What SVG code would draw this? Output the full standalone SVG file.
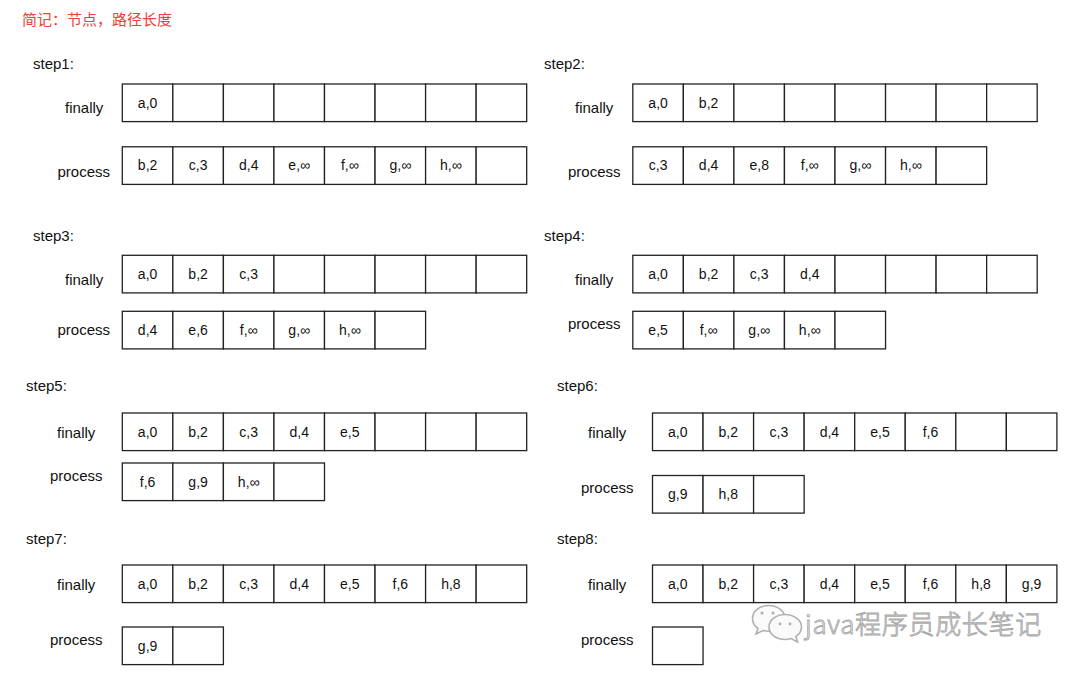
<svg xmlns="http://www.w3.org/2000/svg" width="1080" height="674" viewBox="0 0 1080 674">
<style>
.bg{fill:#fff}
.c{fill:#fff;stroke:#222;stroke-width:1.3}
.t{font-family:"Liberation Sans",Arial,sans-serif;font-size:14px;fill:#111;text-anchor:middle}
.l{font-family:"Liberation Sans",Arial,sans-serif;font-size:15px;fill:#111}
.title{font-family:"Liberation Sans","Noto Sans CJK SC",sans-serif;font-size:15px;fill:#ee4035}
.wm{font-family:"Noto Sans CJK SC","Noto Sans",sans-serif;font-size:26px;font-weight:300;letter-spacing:0.7px;fill:#f6f6f6;stroke:#a8a8a8;stroke-width:0.9}
.wi{fill:#fafafa;stroke:#b0b0b0;stroke-width:1.6}
.we{fill:#b0b0b0}
</style>
<rect class="bg" x="0" y="0" width="1080" height="674"/>
<text class="title" x="22" y="25">简记：节点，路径长度</text>

<g id="step1">
<text class="l" x="33" y="69">step1:</text>
<text class="l" x="65" y="113">finally</text>
<text class="l" x="57.5" y="177">process</text>
<g transform="translate(122.3,84)">
<rect class="c" x="0" y="0" width="50.55" height="37.6"/><rect class="c" x="50.55" y="0" width="50.55" height="37.6"/><rect class="c" x="101.1" y="0" width="50.55" height="37.6"/><rect class="c" x="151.65" y="0" width="50.55" height="37.6"/><rect class="c" x="202.2" y="0" width="50.55" height="37.6"/><rect class="c" x="252.75" y="0" width="50.55" height="37.6"/><rect class="c" x="303.3" y="0" width="50.55" height="37.6"/><rect class="c" x="353.85" y="0" width="50.55" height="37.6"/>
<text class="t" x="25.3" y="23.5">a,0</text>
</g>
<g transform="translate(122.3,146.8)">
<rect class="c" x="0" y="0" width="50.55" height="37.6"/><rect class="c" x="50.55" y="0" width="50.55" height="37.6"/><rect class="c" x="101.1" y="0" width="50.55" height="37.6"/><rect class="c" x="151.65" y="0" width="50.55" height="37.6"/><rect class="c" x="202.2" y="0" width="50.55" height="37.6"/><rect class="c" x="252.75" y="0" width="50.55" height="37.6"/><rect class="c" x="303.3" y="0" width="50.55" height="37.6"/><rect class="c" x="353.85" y="0" width="50.55" height="37.6"/>
<text class="t" x="25.3" y="23.5">b,2</text><text class="t" x="75.8" y="23.5">c,3</text><text class="t" x="126.4" y="23.5">d,4</text><text class="t" x="176.9" y="23.5">e,∞</text><text class="t" x="227.5" y="23.5">f,∞</text><text class="t" x="278" y="23.5">g,∞</text><text class="t" x="328.6" y="23.5">h,∞</text>
</g>
</g>

<g id="step2">
<text class="l" x="544" y="69">step2:</text>
<text class="l" x="575" y="113">finally</text>
<text class="l" x="568" y="177">process</text>
<g transform="translate(632.8,84)">
<rect class="c" x="0" y="0" width="50.55" height="37.6"/><rect class="c" x="50.55" y="0" width="50.55" height="37.6"/><rect class="c" x="101.1" y="0" width="50.55" height="37.6"/><rect class="c" x="151.65" y="0" width="50.55" height="37.6"/><rect class="c" x="202.2" y="0" width="50.55" height="37.6"/><rect class="c" x="252.75" y="0" width="50.55" height="37.6"/><rect class="c" x="303.3" y="0" width="50.55" height="37.6"/><rect class="c" x="353.85" y="0" width="50.55" height="37.6"/>
<text class="t" x="25.3" y="23.5">a,0</text><text class="t" x="75.8" y="23.5">b,2</text>
</g>
<g transform="translate(632.8,146.8)">
<rect class="c" x="0" y="0" width="50.55" height="37.6"/><rect class="c" x="50.55" y="0" width="50.55" height="37.6"/><rect class="c" x="101.1" y="0" width="50.55" height="37.6"/><rect class="c" x="151.65" y="0" width="50.55" height="37.6"/><rect class="c" x="202.2" y="0" width="50.55" height="37.6"/><rect class="c" x="252.75" y="0" width="50.55" height="37.6"/><rect class="c" x="303.3" y="0" width="50.55" height="37.6"/>
<text class="t" x="25.3" y="23.5">c,3</text><text class="t" x="75.8" y="23.5">d,4</text><text class="t" x="126.4" y="23.5">e,8</text><text class="t" x="176.9" y="23.5">f,∞</text><text class="t" x="227.5" y="23.5">g,∞</text><text class="t" x="278" y="23.5">h,∞</text>
</g>
</g>

<g id="step3">
<text class="l" x="33" y="241">step3:</text>
<text class="l" x="65" y="285">finally</text>
<text class="l" x="57.5" y="335">process</text>
<g transform="translate(122.3,255.3)">
<rect class="c" x="0" y="0" width="50.55" height="37.6"/><rect class="c" x="50.55" y="0" width="50.55" height="37.6"/><rect class="c" x="101.1" y="0" width="50.55" height="37.6"/><rect class="c" x="151.65" y="0" width="50.55" height="37.6"/><rect class="c" x="202.2" y="0" width="50.55" height="37.6"/><rect class="c" x="252.75" y="0" width="50.55" height="37.6"/><rect class="c" x="303.3" y="0" width="50.55" height="37.6"/><rect class="c" x="353.85" y="0" width="50.55" height="37.6"/>
<text class="t" x="25.3" y="23.5">a,0</text><text class="t" x="75.8" y="23.5">b,2</text><text class="t" x="126.4" y="23.5">c,3</text>
</g>
<g transform="translate(122.3,311.3)">
<rect class="c" x="0" y="0" width="50.55" height="37.6"/><rect class="c" x="50.55" y="0" width="50.55" height="37.6"/><rect class="c" x="101.1" y="0" width="50.55" height="37.6"/><rect class="c" x="151.65" y="0" width="50.55" height="37.6"/><rect class="c" x="202.2" y="0" width="50.55" height="37.6"/><rect class="c" x="252.75" y="0" width="50.55" height="37.6"/>
<text class="t" x="25.3" y="23.5">d,4</text><text class="t" x="75.8" y="23.5">e,6</text><text class="t" x="126.4" y="23.5">f,∞</text><text class="t" x="176.9" y="23.5">g,∞</text><text class="t" x="227.5" y="23.5">h,∞</text>
</g>
</g>

<g id="step4">
<text class="l" x="544" y="241">step4:</text>
<text class="l" x="575" y="285">finally</text>
<text class="l" x="568" y="329">process</text>
<g transform="translate(632.8,255.3)">
<rect class="c" x="0" y="0" width="50.55" height="37.6"/><rect class="c" x="50.55" y="0" width="50.55" height="37.6"/><rect class="c" x="101.1" y="0" width="50.55" height="37.6"/><rect class="c" x="151.65" y="0" width="50.55" height="37.6"/><rect class="c" x="202.2" y="0" width="50.55" height="37.6"/><rect class="c" x="252.75" y="0" width="50.55" height="37.6"/><rect class="c" x="303.3" y="0" width="50.55" height="37.6"/><rect class="c" x="353.85" y="0" width="50.55" height="37.6"/>
<text class="t" x="25.3" y="23.5">a,0</text><text class="t" x="75.8" y="23.5">b,2</text><text class="t" x="126.4" y="23.5">c,3</text><text class="t" x="176.9" y="23.5">d,4</text>
</g>
<g transform="translate(632.8,311.3)">
<rect class="c" x="0" y="0" width="50.55" height="37.6"/><rect class="c" x="50.55" y="0" width="50.55" height="37.6"/><rect class="c" x="101.1" y="0" width="50.55" height="37.6"/><rect class="c" x="151.65" y="0" width="50.55" height="37.6"/><rect class="c" x="202.2" y="0" width="50.55" height="37.6"/>
<text class="t" x="25.3" y="23.5">e,5</text><text class="t" x="75.8" y="23.5">f,∞</text><text class="t" x="126.4" y="23.5">g,∞</text><text class="t" x="176.9" y="23.5">h,∞</text>
</g>
</g>

<g id="step5">
<text class="l" x="26" y="391">step5:</text>
<text class="l" x="57" y="438">finally</text>
<text class="l" x="50" y="481">process</text>
<g transform="translate(122.3,413)">
<rect class="c" x="0" y="0" width="50.55" height="37.6"/><rect class="c" x="50.55" y="0" width="50.55" height="37.6"/><rect class="c" x="101.1" y="0" width="50.55" height="37.6"/><rect class="c" x="151.65" y="0" width="50.55" height="37.6"/><rect class="c" x="202.2" y="0" width="50.55" height="37.6"/><rect class="c" x="252.75" y="0" width="50.55" height="37.6"/><rect class="c" x="303.3" y="0" width="50.55" height="37.6"/><rect class="c" x="353.85" y="0" width="50.55" height="37.6"/>
<text class="t" x="25.3" y="23.5">a,0</text><text class="t" x="75.8" y="23.5">b,2</text><text class="t" x="126.4" y="23.5">c,3</text><text class="t" x="176.9" y="23.5">d,4</text><text class="t" x="227.5" y="23.5">e,5</text>
</g>
<g transform="translate(122.3,463)">
<rect class="c" x="0" y="0" width="50.55" height="37.6"/><rect class="c" x="50.55" y="0" width="50.55" height="37.6"/><rect class="c" x="101.1" y="0" width="50.55" height="37.6"/><rect class="c" x="151.65" y="0" width="50.55" height="37.6"/>
<text class="t" x="25.3" y="23.5">f,6</text><text class="t" x="75.8" y="23.5">g,9</text><text class="t" x="126.4" y="23.5">h,∞</text>
</g>
</g>

<g id="step6">
<text class="l" x="557" y="391">step6:</text>
<text class="l" x="588" y="438">finally</text>
<text class="l" x="581" y="493">process</text>
<g transform="translate(652.5,413)">
<rect class="c" x="0" y="0" width="50.55" height="37.6"/><rect class="c" x="50.55" y="0" width="50.55" height="37.6"/><rect class="c" x="101.1" y="0" width="50.55" height="37.6"/><rect class="c" x="151.65" y="0" width="50.55" height="37.6"/><rect class="c" x="202.2" y="0" width="50.55" height="37.6"/><rect class="c" x="252.75" y="0" width="50.55" height="37.6"/><rect class="c" x="303.3" y="0" width="50.55" height="37.6"/><rect class="c" x="353.85" y="0" width="50.55" height="37.6"/>
<text class="t" x="25.3" y="23.5">a,0</text><text class="t" x="75.8" y="23.5">b,2</text><text class="t" x="126.4" y="23.5">c,3</text><text class="t" x="176.9" y="23.5">d,4</text><text class="t" x="227.5" y="23.5">e,5</text><text class="t" x="278" y="23.5">f,6</text>
</g>
<g transform="translate(652.5,475.5)">
<rect class="c" x="0" y="0" width="50.55" height="37.6"/><rect class="c" x="50.55" y="0" width="50.55" height="37.6"/><rect class="c" x="101.1" y="0" width="50.55" height="37.6"/>
<text class="t" x="25.3" y="23.5">g,9</text><text class="t" x="75.8" y="23.5">h,8</text>
</g>
</g>

<g id="step7">
<text class="l" x="26" y="544">step7:</text>
<text class="l" x="57" y="590">finally</text>
<text class="l" x="50" y="645">process</text>
<g transform="translate(122.3,565)">
<rect class="c" x="0" y="0" width="50.55" height="37.6"/><rect class="c" x="50.55" y="0" width="50.55" height="37.6"/><rect class="c" x="101.1" y="0" width="50.55" height="37.6"/><rect class="c" x="151.65" y="0" width="50.55" height="37.6"/><rect class="c" x="202.2" y="0" width="50.55" height="37.6"/><rect class="c" x="252.75" y="0" width="50.55" height="37.6"/><rect class="c" x="303.3" y="0" width="50.55" height="37.6"/><rect class="c" x="353.85" y="0" width="50.55" height="37.6"/>
<text class="t" x="25.3" y="23.5">a,0</text><text class="t" x="75.8" y="23.5">b,2</text><text class="t" x="126.4" y="23.5">c,3</text><text class="t" x="176.9" y="23.5">d,4</text><text class="t" x="227.5" y="23.5">e,5</text><text class="t" x="278" y="23.5">f,6</text><text class="t" x="328.6" y="23.5">h,8</text>
</g>
<g transform="translate(122.3,627)">
<rect class="c" x="0" y="0" width="50.55" height="37.6"/><rect class="c" x="50.55" y="0" width="50.55" height="37.6"/>
<text class="t" x="25.3" y="23.5">g,9</text>
</g>
</g>

<g id="step8">
<text class="l" x="557" y="544">step8:</text>
<text class="l" x="588" y="590">finally</text>
<text class="l" x="581" y="645">process</text>
<g transform="translate(652.5,565)">
<rect class="c" x="0" y="0" width="50.55" height="37.6"/><rect class="c" x="50.55" y="0" width="50.55" height="37.6"/><rect class="c" x="101.1" y="0" width="50.55" height="37.6"/><rect class="c" x="151.65" y="0" width="50.55" height="37.6"/><rect class="c" x="202.2" y="0" width="50.55" height="37.6"/><rect class="c" x="252.75" y="0" width="50.55" height="37.6"/><rect class="c" x="303.3" y="0" width="50.55" height="37.6"/><rect class="c" x="353.85" y="0" width="50.55" height="37.6"/>
<text class="t" x="25.3" y="23.5">a,0</text><text class="t" x="75.8" y="23.5">b,2</text><text class="t" x="126.4" y="23.5">c,3</text><text class="t" x="176.9" y="23.5">d,4</text><text class="t" x="227.5" y="23.5">e,5</text><text class="t" x="278" y="23.5">f,6</text><text class="t" x="328.6" y="23.5">h,8</text><text class="t" x="379.1" y="23.5">g,9</text>
</g>
<g transform="translate(652.5,627)">
<rect class="c" x="0" y="0" width="50.55" height="37.6"/>
</g>
</g>

<g id="watermark">
<path class="wi" d="M768.5,605.5 C759,605.5 752.5,611.5 752.5,618.5 C752.5,622.5 754.5,626 758,628.5 L756,634 L763,630.5 C765,631 767,631.3 768.5,631.3 C778,631.3 785,625.5 785,618.5 C785,611.5 778,605.5 768.5,605.5 Z"/>
<path class="wi" d="M785,614.5 C776,614.5 769,620 769,627 C769,634 776,639.5 785,639.5 C787,639.5 789,639.2 791,638.6 L797.5,642 L796,636.5 C799.5,634 801.5,630.7 801.5,627 C801.5,620 794,614.5 785,614.5 Z"/>
<circle class="we" cx="762" cy="613" r="1.6"/><circle class="we" cx="773" cy="613" r="1.6"/>
<circle class="we" cx="780" cy="624" r="1.4"/><circle class="we" cx="790" cy="624" r="1.4"/>
<text class="wm" x="805" y="634">java程序员成长笔记</text>
</g>
</svg>
